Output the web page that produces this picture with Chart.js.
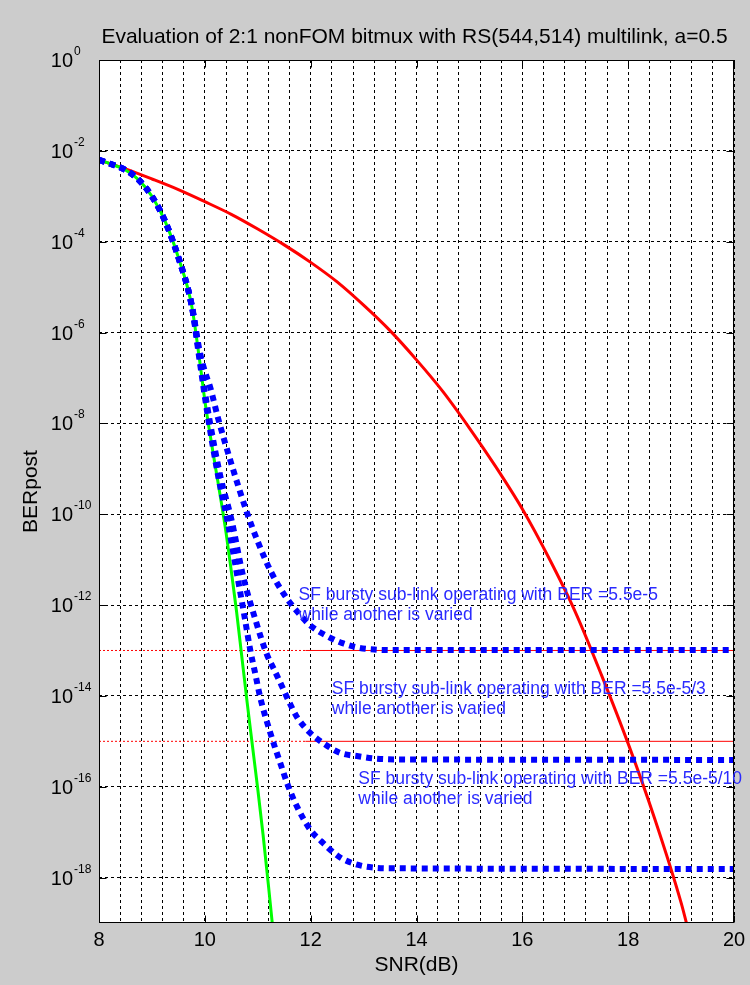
<!DOCTYPE html>
<html>
<head>
<meta charset="utf-8">
<title>Evaluation of 2:1 nonFOM bitmux with RS(544,514) multilink</title>
<script src="https://cdn.jsdelivr.net/npm/chart.js@4.4.1/dist/chart.umd.min.js"></script>
<style>
  html, body { margin: 0; padding: 0; background: #cccccc; }
  canvas { display: block; }
</style>
</head>
<body>
<canvas id="berChart" width="750" height="985"></canvas>
<script>
// ---------------------------------------------------------------
// data (SNR in dB, BER post-FEC)
// ---------------------------------------------------------------

// red: single link
const snrRed = [8, 8.5, 9, 9.5, 10, 10.5, 11, 11.5, 12, 12.5, 13, 13.5, 14, 14.5, 15, 15.5, 16, 16.5, 17, 17.5, 18, 18.5, 19, 19.2];
const berRed = [6.3e-3, 4.0e-3, 2.4e-3, 1.4e-3, 7.6e-4, 4.0e-4, 1.9e-4, 8.5e-5, 3.5e-5, 1.3e-5, 4.0e-6, 1.1e-6, 2.5e-7, 5.0e-8, 7.9e-9, 1.1e-9, 1.3e-10, 1.1e-11, 7.1e-13, 2.8e-14, 8.9e-16, 2.0e-17, 2.8e-19, 3.5e-20];

// green: both sub-links varied together
const snrGreen = [8, 8.25, 8.5, 8.75, 9, 9.25, 9.5, 9.75, 9.9, 10, 10.1, 10.2, 10.3, 10.4, 10.5, 10.6, 10.7, 10.8, 10.9, 11, 11.1, 11.2, 11.3];
const berGreen = [6.3e-3, 5.0e-3, 3.8e-3, 2.3e-3, 1.0e-3, 2.8e-4, 4.5e-5, 4.0e-6, 2.5e-7, 3.2e-8, 5.6e-9, 1.1e-9, 2.2e-10, 4.0e-11, 5.6e-12, 7.1e-13, 7.1e-14, 7.1e-15, 7.9e-16, 8.9e-17, 8.9e-18, 7.1e-19, 5.0e-20];

// blue dotted: other sub-link fixed at 5.5e-5
const snrBlueA = [8, 8.25, 8.5, 8.75, 9, 9.25, 9.5, 9.75, 9.9, 10, 10.1, 10.25, 10.5, 10.8, 11, 11.25, 11.5, 11.75, 12, 12.3, 12.6, 12.9, 13.2, 13.6, 20];
const berBlueA = [6.3e-3, 5.0e-3, 3.8e-3, 2.3e-3, 1.0e-3, 2.8e-4, 4.5e-5, 4.2e-6, 4.0e-7, 1.4e-7, 6.3e-8, 1.3e-8, 1.3e-9, 1.05e-10, 2.5e-11, 5.4e-12, 1.7e-12, 7.1e-13, 3.5e-13, 2.1e-13, 1.45e-13, 1.15e-13, 1.05e-13, 1.02e-13, 1.02e-13];

// blue dotted: other sub-link fixed at 5.5e-5/3
const snrBlueB = [8, 8.25, 8.5, 8.75, 9, 9.25, 9.5, 9.75, 9.9, 10, 10.1, 10.3, 10.5, 10.73, 10.95, 11.17, 11.3, 11.45, 11.6, 11.75, 12, 12.25, 12.55, 12.9, 13.2, 13.6, 20];
const berBlueB = [6.3e-3, 5.0e-3, 3.8e-3, 2.3e-3, 1.0e-3, 2.8e-4, 4.5e-5, 4.0e-6, 3.0e-7, 5.0e-8, 1.0e-8, 6.3e-10, 7.9e-11, 4.0e-12, 5.0e-13, 8.3e-14, 4.0e-14, 1.7e-14, 7.1e-15, 3.3e-15, 1.5e-15, 8.9e-16, 5.6e-16, 4.7e-16, 4.2e-16, 4.0e-16, 3.9e-16];

// blue dotted: other sub-link fixed at 5.5e-5/10
const snrBlueC = [8, 8.25, 8.5, 8.75, 9, 9.25, 9.5, 9.75, 9.9, 10.05, 10.25, 10.42, 10.62, 10.75, 10.86, 10.95, 11.05, 11.24, 11.43, 11.58, 11.75, 12, 12.2, 12.55, 12.9, 13.2, 13.6, 20];
const berBlueC = [6.3e-3, 5.0e-3, 3.8e-3, 2.3e-3, 1.0e-3, 2.8e-4, 4.5e-5, 4.0e-6, 2.5e-7, 1.6e-8, 7.1e-10, 7.9e-11, 4.0e-12, 5.6e-13, 1.0e-13, 3.2e-14, 8.9e-15, 1.5e-15, 3.2e-16, 1.0e-16, 3.5e-17, 1.1e-17, 6.3e-18, 2.8e-18, 1.9e-18, 1.66e-18, 1.6e-18, 1.55e-18];

// thin red reference levels
const refSnr = [8, 11.9, 20];
const refBer = [1e-13, 1e-15];

// axes
const xTickLabels = [8, 10, 12, 14, 16, 18, 20];
const berTicks = [1e0, 1e-2, 1e-4, 1e-6, 1e-8, 1e-10, 1e-12, 1e-14, 1e-16, 1e-18];
const berTickExp = ['0', '-2', '-4', '-6', '-8', '-10', '-12', '-14', '-16', '-18'];

// text notes
const noteLines = [
    ['SF bursty sub-link operating with BER =5.5e-5', 'while another is varied'],
    ['SF bursty sub-link operating with BER =5.5e-5/3', 'while another is varied'],
    ['SF bursty sub-link operating with BER =5.5e-5/10', 'while another is varied']
];
const noteSnr = [11.77, 12.4, 12.9];
const noteBer = [1.26e-12, 1.12e-14, 1.15e-16];

const titleText = 'Evaluation of 2:1 nonFOM bitmux with RS(544,514) multilink, a=0.5';
const FONT = '"Liberation Sans", Arial, sans-serif';

// ---------------------------------------------------------------

function pts(xs, ys) {
    return xs.map((x, i) => ({ x: x, y: ys[i] }));
}

function blueSet(xs, ys) {
    return {
        data: pts(xs, ys),
        borderColor: '#0000ff',
        borderWidth: 6,
        borderDash: [6, 5],
        borderCapStyle: 'butt',
        cubicInterpolationMode: 'monotone',
        pointRadius: 0
    };
}

function refSet(level) {
    return {
        data: refSnr.map(x => ({ x: x, y: level })),
        borderColor: '#ff0000',
        borderWidth: 1,
        pointRadius: 0,
        segment: {
            borderDash: ctx => (ctx.p0.parsed.x < refSnr[1] ? [2, 2] : undefined)
        }
    };
}

// axes box, tick marks, labels and notes drawn on top of Chart.js scales
const figurePlugin = {
    id: 'matlabFigure',
    beforeDraw(chart) {
        const { ctx, chartArea: a } = chart;
        ctx.save();
        ctx.fillStyle = '#ffffff';
        ctx.fillRect(a.left, a.top, a.right - a.left, a.bottom - a.top);
        ctx.restore();
    },
    afterDraw(chart) {
        const { ctx, chartArea: a, scales } = chart;
        const xs = scales.x, ys = scales.y;
        const L = Math.round(a.left) + 0.5, R = Math.round(a.right) - 0.5;
        const T = Math.round(a.top) + 0.5, B = Math.round(a.bottom) - 0.5;
        ctx.save();

        // box
        ctx.strokeStyle = '#000';
        ctx.lineWidth = 1;
        ctx.setLineDash([]);
        ctx.strokeRect(L, T, R - L, B - T);

        // tick marks (inward)
        ctx.beginPath();
        xTickLabels.forEach(v => {
            const px = Math.round(xs.getPixelForValue(v)) + 0.5;
            ctx.moveTo(px, B); ctx.lineTo(px, B - 7);
            ctx.moveTo(px, T); ctx.lineTo(px, T + 7);
        });
        berTicks.forEach(v => {
            const py = Math.round(ys.getPixelForValue(v)) + 0.5;
            ctx.moveTo(L, py); ctx.lineTo(L + 7, py);
            ctx.moveTo(R, py); ctx.lineTo(R - 7, py);
        });
        ctx.stroke();

        ctx.fillStyle = '#000';

        // x tick labels
        ctx.font = '20px ' + FONT;
        ctx.textAlign = 'center';
        ctx.textBaseline = 'alphabetic';
        xTickLabels.forEach(v => {
            ctx.fillText(String(v), xs.getPixelForValue(v), a.bottom + 23);
        });

        // y tick labels 10^n
        berTicks.forEach((v, i) => {
            const py = ys.getPixelForValue(v);
            ctx.font = '20px ' + FONT;
            ctx.textAlign = 'right';
            ctx.fillText('10', a.left - 26, py + 7);
            ctx.font = '12px ' + FONT;
            ctx.textAlign = 'left';
            ctx.fillText(berTickExp[i], a.left - 25, py - 5);
        });

        // axis titles
        ctx.font = '21px ' + FONT;
        ctx.textAlign = 'center';
        ctx.fillText('SNR(dB)', (a.left + a.right) / 2, a.bottom + 48);
        ctx.fillText(titleText, (a.left + a.right) / 2 - 2, a.top - 17);

        ctx.save();
        ctx.translate(a.left - 62, (a.top + a.bottom) / 2);
        ctx.rotate(-Math.PI / 2);
        ctx.fillText('BERpost', 0, 0);
        ctx.restore();

        // notes
        ctx.font = '17.5px ' + FONT;
        ctx.textAlign = 'left';
        ctx.fillStyle = '#2a2aff';
        noteLines.forEach((lines, i) => {
            const px = xs.getPixelForValue(noteSnr[i]);
            const py = ys.getPixelForValue(noteBer[i]);
            lines.forEach((t, j) => ctx.fillText(t, px, py + j * 20));
        });

        ctx.restore();
    }
};

new Chart(document.getElementById('berChart'), {
    type: 'line',
    data: {
        datasets: [
            blueSet(snrBlueA, berBlueA),
            blueSet(snrBlueB, berBlueB),
            blueSet(snrBlueC, berBlueC),
            {
                data: pts(snrGreen, berGreen),
                borderColor: '#00ff00',
                borderWidth: 3,
                cubicInterpolationMode: 'monotone',
                pointRadius: 0
            },
            refSet(refBer[0]),
            refSet(refBer[1]),
            {
                data: pts(snrRed, berRed),
                borderColor: '#ff0000',
                borderWidth: 3,
                cubicInterpolationMode: 'monotone',
                pointRadius: 0
            }
        ]
    },
    options: {
        responsive: false,
        animation: false,
        devicePixelRatio: 1,
        layout: { padding: { left: 99, top: 60, right: 16, bottom: 62 } },
        plugins: {
            legend: { display: false },
            tooltip: { enabled: false }
        },
        scales: {
            x: {
                type: 'linear',
                min: 8,
                max: 20,
                ticks: { display: false, stepSize: 0.4 },
                grid: { color: '#000000', lineWidth: 1, drawTicks: false },
                border: { display: false, dash: [3, 3] },
                afterFit: s => { s.height = 0; }
            },
            y: {
                type: 'logarithmic',
                min: 1e-19,
                max: 1,
                ticks: { display: false },
                grid: { color: '#000000', lineWidth: 1, drawTicks: false },
                border: { display: false, dash: [3, 3] },
                afterBuildTicks: s => { s.ticks = berTicks.map(v => ({ value: v })); },
                afterFit: s => { s.width = 0; }
            }
        }
    },
    plugins: [figurePlugin]
});
</script>
</body>
</html>
